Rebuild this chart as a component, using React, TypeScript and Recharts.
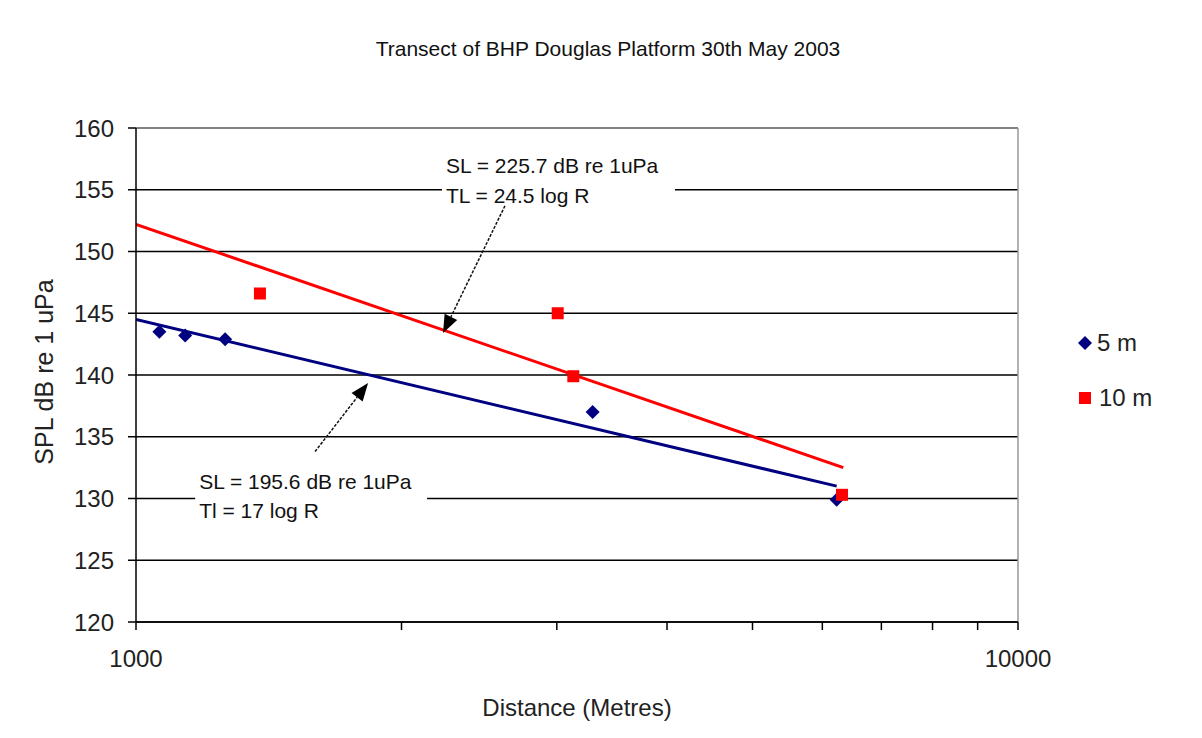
import React from 'react';
import { ComposedChart, Line, Scatter, XAxis, YAxis, CartesianGrid, ReferenceLine, ReferenceArea, Label } from 'recharts';

// measured points (distance in metres, SPL in dB)
const distance5m = [1063, 1137, 1262, 3294, 6229];
const spl5m = [143.5, 143.2, 142.9, 137.0, 129.9];
const distance10m = [1382, 3007, 3132, 6316];
const spl10m = [146.6, 145.0, 139.9, 130.3];

// fitted trend lines, end points
const trend5mX = [1000, 6229];
const trend5mY = [144.5, 131.0];
const trend10mX = [1000, 6338];
const trend10mY = [152.2, 132.5];

const xTicks = [1000, 2000, 3000, 4000, 5000, 6000, 7000, 8000, 9000, 10000];
const yTicks = [120, 125, 130, 135, 140, 145, 150, 155, 160];

const toPoints = (xs: number[], ys: number[]) => xs.map((x, i) => ({ x, y: ys[i] }));

const data5m = toPoints(distance5m, spl5m);
const data10m = toPoints(distance10m, spl10m);
const trend5m = toPoints(trend5mX, trend5mY);
const trend10m = toPoints(trend10mX, trend10mY);

const FONT = '"Liberation Sans", Arial, sans-serif';

const Diamond = (props: any) => {
  const { cx, cy } = props;
  return <polygon points={`${cx},${cy - 7} ${cx + 7},${cy} ${cx},${cy + 7} ${cx - 7},${cy}`} fill="#000080" />;
};

const Square = (props: any) => {
  const { cx, cy } = props;
  return <rect x={cx - 6} y={cy - 6} width={12} height={12} fill="#ff0000" />;
};

const Arrow = (props: any) => {
  const { x1, y1, x2, y2 } = props;
  const ang = Math.atan2(y2 - y1, x2 - x1);
  const len = 18;
  const half = 7;
  const bx = x2 - len * Math.cos(ang);
  const by = y2 - len * Math.sin(ang);
  const px = -Math.sin(ang) * half;
  const py = Math.cos(ang) * half;
  return (
    <g>
      <line x1={x1} y1={y1} x2={bx} y2={by} stroke="#111" strokeWidth={1.5} strokeDasharray="3 1.5" />
      <polygon points={`${x2},${y2} ${bx + px},${by + py} ${bx - px},${by - py}`} fill="#000" />
    </g>
  );
};

const noteBox = (lines: string[], gap: number) => (props: any) => {
  const { x, y, width, height } = props;
  return (
    <g>
      <rect x={x} y={y} width={width} height={height} fill="#fff" />
      {lines.map((t, i) => (
        <text key={i} x={x + 4} y={y + 15 + i * gap} dominantBaseline="central" fontFamily={FONT} fontSize={21} fill="#111">
          {t}
        </text>
      ))}
    </g>
  );
};

const LegendBox = () => (
  <div style={{ position: 'absolute', left: 1076, top: 330, width: 120, height: 80, fontFamily: FONT, fontSize: 24, color: '#222' }}>
    <svg width={14} height={14} style={{ position: 'absolute', left: 2, top: 6 }}>
      <polygon points="7,0 14,7 7,14 0,7" fill="#000080" />
    </svg>
    <span style={{ position: 'absolute', left: 21, top: 1, lineHeight: '24px' }}>5 m</span>
    <svg width={12} height={12} style={{ position: 'absolute', left: 3, top: 62 }}>
      <rect width={12} height={12} fill="#ff0000" />
    </svg>
    <span style={{ position: 'absolute', left: 23, top: 56, lineHeight: '24px' }}>10 m</span>
  </div>
);

export default function App() {
  return (
    <div style={{ position: 'absolute', left: 0, top: 0, width: 1202, height: 738, background: '#fff' }}>
      <div style={{ position: 'absolute', left: 308, top: 38, width: 600, textAlign: 'center', fontFamily: FONT, fontSize: 21, lineHeight: '21px', color: '#111' }}>
        Transect of BHP Douglas Platform 30th May 2003
      </div>
      <ComposedChart width={1202} height={738} margin={{ top: 128, right: 184, left: 0, bottom: 0 }}>
        <CartesianGrid vertical={false} stroke="#000" strokeWidth={1.3} />
        <XAxis
          dataKey="x"
          type="number"
          scale="log"
          domain={[1000, 10000]}
          ticks={xTicks}
          allowDataOverflow
          height={116}
          tickSize={8}
          tickMargin={20}
          interval={0}
          tickFormatter={(v: number) => (v === 1000 || v === 10000 ? String(v) : '')}
          axisLine={{ stroke: '#000', strokeWidth: 1.5 }}
          tickLine={{ stroke: '#000', strokeWidth: 1.5 }}
          tick={{ fill: '#222', fontSize: 24, fontFamily: FONT }}
        >
          <Label
            content={() => (
              <text x={577} y={707} textAnchor="middle" dominantBaseline="central" fontFamily={FONT} fontSize={24} fill="#222">
                Distance (Metres)
              </text>
            )}
          />
        </XAxis>
        <YAxis
          dataKey="y"
          type="number"
          domain={[120, 160]}
          ticks={yTicks}
          width={136}
          tickSize={8}
          tickMargin={14}
          interval={0}
          axisLine={{ stroke: '#000', strokeWidth: 1.5 }}
          tickLine={{ stroke: '#000', strokeWidth: 1.5 }}
          tick={{ fill: '#222', fontSize: 24, fontFamily: FONT }}
        >
          <Label
            content={() => (
              <text x={44} y={372} textAnchor="middle" dominantBaseline="central" transform="rotate(-90 44 372)" fontFamily={FONT} fontSize={25} fill="#222">
                SPL dB re 1 uPa
              </text>
            )}
          />
        </YAxis>
        <ReferenceLine y={160} stroke="#999" strokeWidth={1.5} />
        <ReferenceLine x={10000} stroke="#999" strokeWidth={1.5} />
        <ReferenceArea x1={2223} x2={4084} y1={153.4} y2={158.2} shape={noteBox(['SL = 225.7 dB re 1uPa', 'TL = 24.5 log R'], 30)} />
        <ReferenceArea x1={1167} x2={2138} y1={127.8} y2={132.6} shape={noteBox(['SL = 195.6 dB re 1uPa', 'Tl = 17 log R'], 29)} />
        <Line data={trend10m} dataKey="y" stroke="#ff0000" strokeWidth={3} dot={false} isAnimationActive={false} legendType="none" />
        <Line data={trend5m} dataKey="y" stroke="#000080" strokeWidth={3} dot={false} isAnimationActive={false} legendType="none" />
        <Scatter name="5 m" data={data5m} shape={Diamond} isAnimationActive={false} />
        <Scatter name="10 m" data={data10m} shape={Square} isAnimationActive={false} />
        <ReferenceLine segment={[{ x: 2620, y: 153.7 }, { x: 2229, y: 143.4 }]} shape={Arrow} />
        <ReferenceLine segment={[{ x: 1596, y: 133.8 }, { x: 1833, y: 139.35 }]} shape={Arrow} />
      </ComposedChart>
      <LegendBox />
    </div>
  );
}
